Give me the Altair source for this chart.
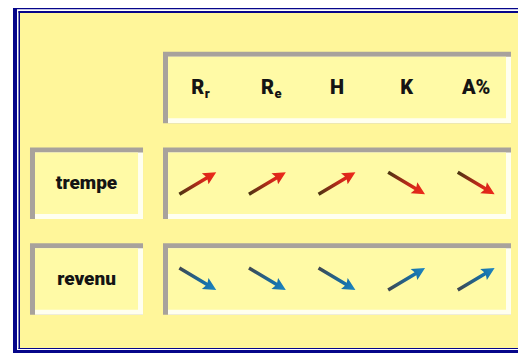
import altair as alt
import pandas as pd

# ---- data ----
col_main = ["R", "R", "H", "K", "A%"]
col_sub = ["r", "e", "", "", ""]
rows = ["trempe", "revenu"]
trend_trempe = ["up", "up", "up", "down", "down"]
trend_revenu = ["down", "down", "down", "up", "up"]
trends = {"trempe": trend_trempe, "revenu": trend_revenu}

# ---- styling / layout constants ----
W, H = 510, 345
FONT = "Roboto, sans-serif"
NAVY = "#06068a"
BG = "#fff69a"
INNER = "#fffaa6"
GRAY = "#a8a29c"
LIGHT = "#fffff0"
COL_PX0, COL_STEP = 189.8, 69.6      # column 0 centre / pitch in px
ROW_PX0, ROW_STEP = 79.5, 95.75      # header row centre / pitch in px
HALF_H = 35.75 / ROW_STEP            # half box height (row units)
LABEL_X0, LABEL_X1 = -2.411, -0.787  # label box extent (column units)
BEV = 5

xs = alt.Scale(domain=[-COL_PX0 / COL_STEP, (W - COL_PX0) / COL_STEP], nice=False, zero=False)
ys = alt.Scale(domain=[-ROW_PX0 / ROW_STEP, (H - ROW_PX0) / ROW_STEP], nice=False, zero=False, reverse=True)

n = len(col_main)
boxes = [dict(x0=-0.5, x1=n - 0.5, y0=-HALF_H, y1=HALF_H)]
for j, r in enumerate(rows, start=1):
    boxes.append(dict(x0=-0.5, x1=n - 0.5, y0=j - HALF_H, y1=j + HALF_H))
    boxes.append(dict(x0=LABEL_X0, x1=LABEL_X1, y0=j - HALF_H, y1=j + HALF_H))
boxes = pd.DataFrame(boxes)

header = pd.DataFrame({"x": list(range(n)), "y": 0, "main": col_main, "sub": col_sub})
labels = pd.DataFrame({"x": (LABEL_X0 + LABEL_X1) / 2, "y": list(range(1, len(rows) + 1)), "label": rows})

arrows = pd.DataFrame([
    {"x": i, "y": j, "trend": t, "series": r}
    for j, r in enumerate(rows, start=1)
    for i, t in enumerate(trends[r])
])

one = pd.DataFrame({"a": [0]})


def prect(color, x0, x1, y0, y1):
    return alt.Chart(one).mark_rect(color=color).encode(
        x=alt.value(x0), x2=alt.value(x1), y=alt.value(y0), y2=alt.value(y1))


# double frame on left, top and bottom only (right side is cropped in the reference)
frame = [
    prect(BG, 12, W, 5, 340),
    # left
    prect(NAVY, 5, 9, 0, H),
    prect("white", 9, 10.5, 1.5, 342),
    prect(NAVY, 10.5, 12, 3, 341),
    # top
    prect(NAVY, 5, W, 0, 1.5),
    prect("white", 9, W, 1.5, 3),
    prect(NAVY, 10.5, W, 3, 5),
    # bottom
    prect(NAVY, 10.5, W, 340, 341),
    prect("white", 9, W, 341, 342),
    prect(NAVY, 5, W, 342, H),
]


def box_layer(color, **offs):
    return alt.Chart(boxes).mark_rect(color=color, **offs).encode(
        x=alt.X("x0:Q", scale=xs, axis=None), x2="x1:Q",
        y=alt.Y("y0:Q", scale=ys, axis=None), y2="y1:Q",
    )


box_layers = [
    box_layer(GRAY),
    box_layer(LIGHT, xOffset=BEV, yOffset=BEV),
    box_layer(INNER, xOffset=BEV, yOffset=BEV, x2Offset=-BEV, y2Offset=-BEV),
]

head_main = alt.Chart(header).mark_text(font=FONT, fontSize=20, fontWeight=900, color="#141414", baseline="middle").encode(
    x=alt.X("x:Q", scale=xs), y=alt.Y("y:Q", scale=ys), text="main:N")
head_sub = alt.Chart(header).transform_filter("datum.sub != ''").mark_text(
    font=FONT, fontSize=13, fontWeight=900, color="#141414", baseline="middle", align="left", dx=7, dy=6).encode(
    x=alt.X("x:Q", scale=xs), y=alt.Y("y:Q", scale=ys), text="sub:N")
row_text = alt.Chart(labels).mark_text(font=FONT, fontSize=19, fontWeight=900, color="#141414", baseline="middle").encode(
    x=alt.X("x:Q", scale=xs), y=alt.Y("y:Q", scale=ys), text="label:N")

ARROW = "M0,-1 L0.3,-0.4 L0.08,-0.48 L0.08,1 L-0.08,1 L-0.08,-0.48 L-0.3,-0.4 Z"


def grad(c_tip, c_mid, c_tail):
    return alt.LinearGradient(gradient="linear", x1=0, y1=0, x2=0, y2=1, stops=[
        alt.GradientStop(offset=0, color=c_tip),
        alt.GradientStop(offset=0.32, color=c_mid),
        alt.GradientStop(offset=1, color=c_tail),
    ])


arrow_style = {
    "trempe": grad("#ee2a1a", "#d8261a", "#4a3512"),
    "revenu": grad("#1e86c2", "#176fa6", "#3f4850"),
}

arrow_layers = []
for r in rows:
    arrow_layers.append(
        alt.Chart(arrows).transform_filter(alt.datum.series == r)
        .transform_calculate(angle="datum.trend == 'up' ? 59 : 121")
        .mark_point(shape=ARROW, filled=True, size=1849, opacity=1, fill=arrow_style[r], strokeWidth=0)
        .encode(x=alt.X("x:Q", scale=xs), y=alt.Y("y:Q", scale=ys), angle=alt.Angle("angle:Q", scale=None))
    )

chart = alt.layer(*frame, *box_layers, head_main, head_sub, row_text, *arrow_layers).properties(
    width=W, height=H, padding=0, autosize="none", background="white"
).configure_view(stroke=None)

chart.save("out.html", embed_options={"renderer": "svg", "actions": False})
